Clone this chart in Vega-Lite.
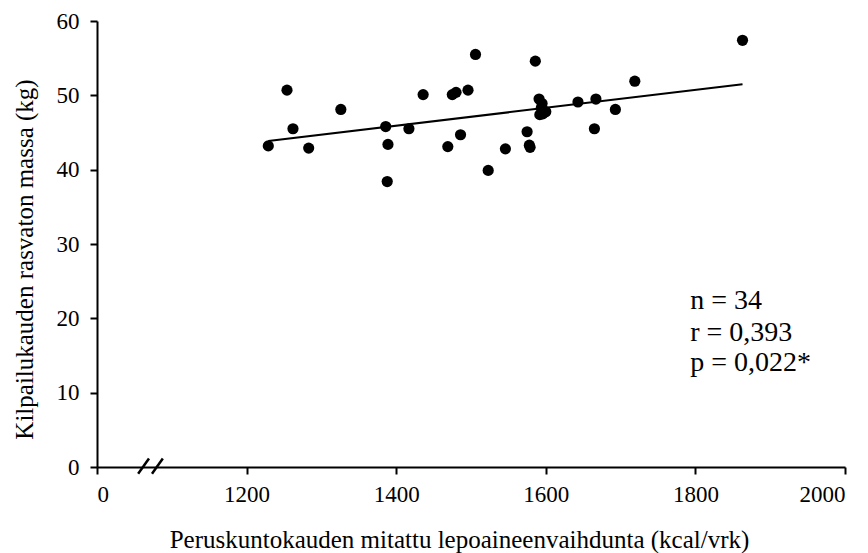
{
  "$schema": "https://vega.github.io/schema/vega-lite/v6.json",
  "width": 748,
  "height": 446,
  "autosize": {"type": "none"},
  "padding": {"left": 97, "top": 21, "right": 23, "bottom": 86},
  "background": "white",
  "config": {
    "view": {"stroke": null},
    "font": "Liberation Serif, Times New Roman, serif",
    "axis": {
      "grid": false,
      "domainColor": "black",
      "domainWidth": 2,
      "tickColor": "black",
      "tickWidth": 2,
      "tickSize": 7,
      "labelFont": "Liberation Serif, Times New Roman, serif",
      "labelFontSize": 23,
      "labelColor": "black",
      "titleFont": "Liberation Serif, Times New Roman, serif",
      "titleFontSize": 25,
      "titleFontWeight": "normal",
      "titleColor": "black"
    },
    "text": {"font": "Liberation Serif, Times New Roman, serif"}
  },
  "datasets": {
    "points": [
      {"ree": 1254, "ffm": 50.7},
      {"ree": 1229, "ffm": 43.2},
      {"ree": 1262, "ffm": 45.5},
      {"ree": 1283, "ffm": 42.9},
      {"ree": 1326, "ffm": 48.1},
      {"ree": 1386, "ffm": 45.8},
      {"ree": 1389, "ffm": 43.4},
      {"ree": 1388, "ffm": 38.4},
      {"ree": 1417, "ffm": 45.5},
      {"ree": 1436, "ffm": 50.1},
      {"ree": 1506, "ffm": 55.5},
      {"ree": 1475, "ffm": 50.1},
      {"ree": 1480, "ffm": 50.4},
      {"ree": 1496, "ffm": 50.7},
      {"ree": 1486, "ffm": 44.7},
      {"ree": 1469, "ffm": 43.1},
      {"ree": 1523, "ffm": 39.9},
      {"ree": 1546, "ffm": 42.8},
      {"ree": 1586, "ffm": 54.6},
      {"ree": 1575, "ffm": 45.1},
      {"ree": 1578, "ffm": 43.3},
      {"ree": 1579, "ffm": 43.0},
      {"ree": 1591, "ffm": 49.5},
      {"ree": 1595, "ffm": 48.9},
      {"ree": 1594, "ffm": 48.3},
      {"ree": 1600, "ffm": 47.8},
      {"ree": 1592, "ffm": 47.4},
      {"ree": 1596, "ffm": 47.5},
      {"ree": 1643, "ffm": 49.1},
      {"ree": 1667, "ffm": 49.5},
      {"ree": 1693, "ffm": 48.1},
      {"ree": 1665, "ffm": 45.5},
      {"ree": 1719, "ffm": 51.9},
      {"ree": 1863, "ffm": 57.4}
    ],
    "breaks": [
      {"x1": 1055, "x2": 1069.5, "y1": -0.9, "y2": 1.15},
      {"x1": 1073.5, "x2": 1088, "y1": -0.9, "y2": 1.15}
    ],
    "stats": [
      {"label": "n = 34", "tx": 1793, "ty": 21.2},
      {"label": "r = 0,393", "tx": 1793, "ty": 16.9},
      {"label": "p = 0,022*", "tx": 1793, "ty": 12.9}
    ]
  },
  "layer": [
    {
      "data": {"name": "points"},
      "mark": {"type": "circle", "size": 125, "color": "black", "opacity": 1},
      "encoding": {
        "x": {
          "field": "ree",
          "type": "quantitative",
          "scale": {"domain": [1000, 2000], "nice": false, "zero": false},
          "axis": {
            "values": [1000, 1200, 1400, 1600, 1800, 2000],
            "format": "d",
            "labelExpr": "datum.value == 1000 ? '0' : datum.label",
            "labelPadding": 9,
            "title": "Peruskuntokauden mitattu lepoaineenvaihdunta (kcal/vrk)",
            "titleAnchor": null,
            "titleX": 362,
            "titleY": 80,
            "titleBaseline": "alphabetic",
            "titleAlign": "center"
          }
        },
        "y": {
          "field": "ffm",
          "type": "quantitative",
          "scale": {"domain": [0, 60], "nice": false},
          "axis": {
            "values": [0, 10, 20, 30, 40, 50, 60],
            "labelPadding": 11,
            "title": "Kilpailukauden rasvaton massa (kg)",
            "titleAngle": -90,
            "titleX": -65,
            "titleY": 238,
            "titleBaseline": "alphabetic",
            "titleAlign": "center"
          }
        }
      }
    },
    {
      "data": {"name": "points"},
      "transform": [{"regression": "ffm", "on": "ree"}],
      "mark": {"type": "line", "color": "black", "strokeWidth": 2},
      "encoding": {
        "x": {"field": "ree", "type": "quantitative"},
        "y": {"field": "ffm", "type": "quantitative"}
      }
    },
    {
      "data": {"name": "breaks"},
      "mark": {"type": "rule", "color": "black", "strokeWidth": 2.5},
      "encoding": {
        "x": {"field": "x1", "type": "quantitative"},
        "x2": {"field": "x2"},
        "y": {"field": "y1", "type": "quantitative"},
        "y2": {"field": "y2"}
      }
    },
    {
      "data": {"name": "stats"},
      "mark": {"type": "text", "align": "left", "baseline": "alphabetic", "fontSize": 28, "font": "Liberation Serif, Times New Roman, serif", "color": "black"},
      "encoding": {
        "x": {"field": "tx", "type": "quantitative"},
        "y": {"field": "ty", "type": "quantitative"},
        "text": {"field": "label"}
      }
    }
  ]
}
